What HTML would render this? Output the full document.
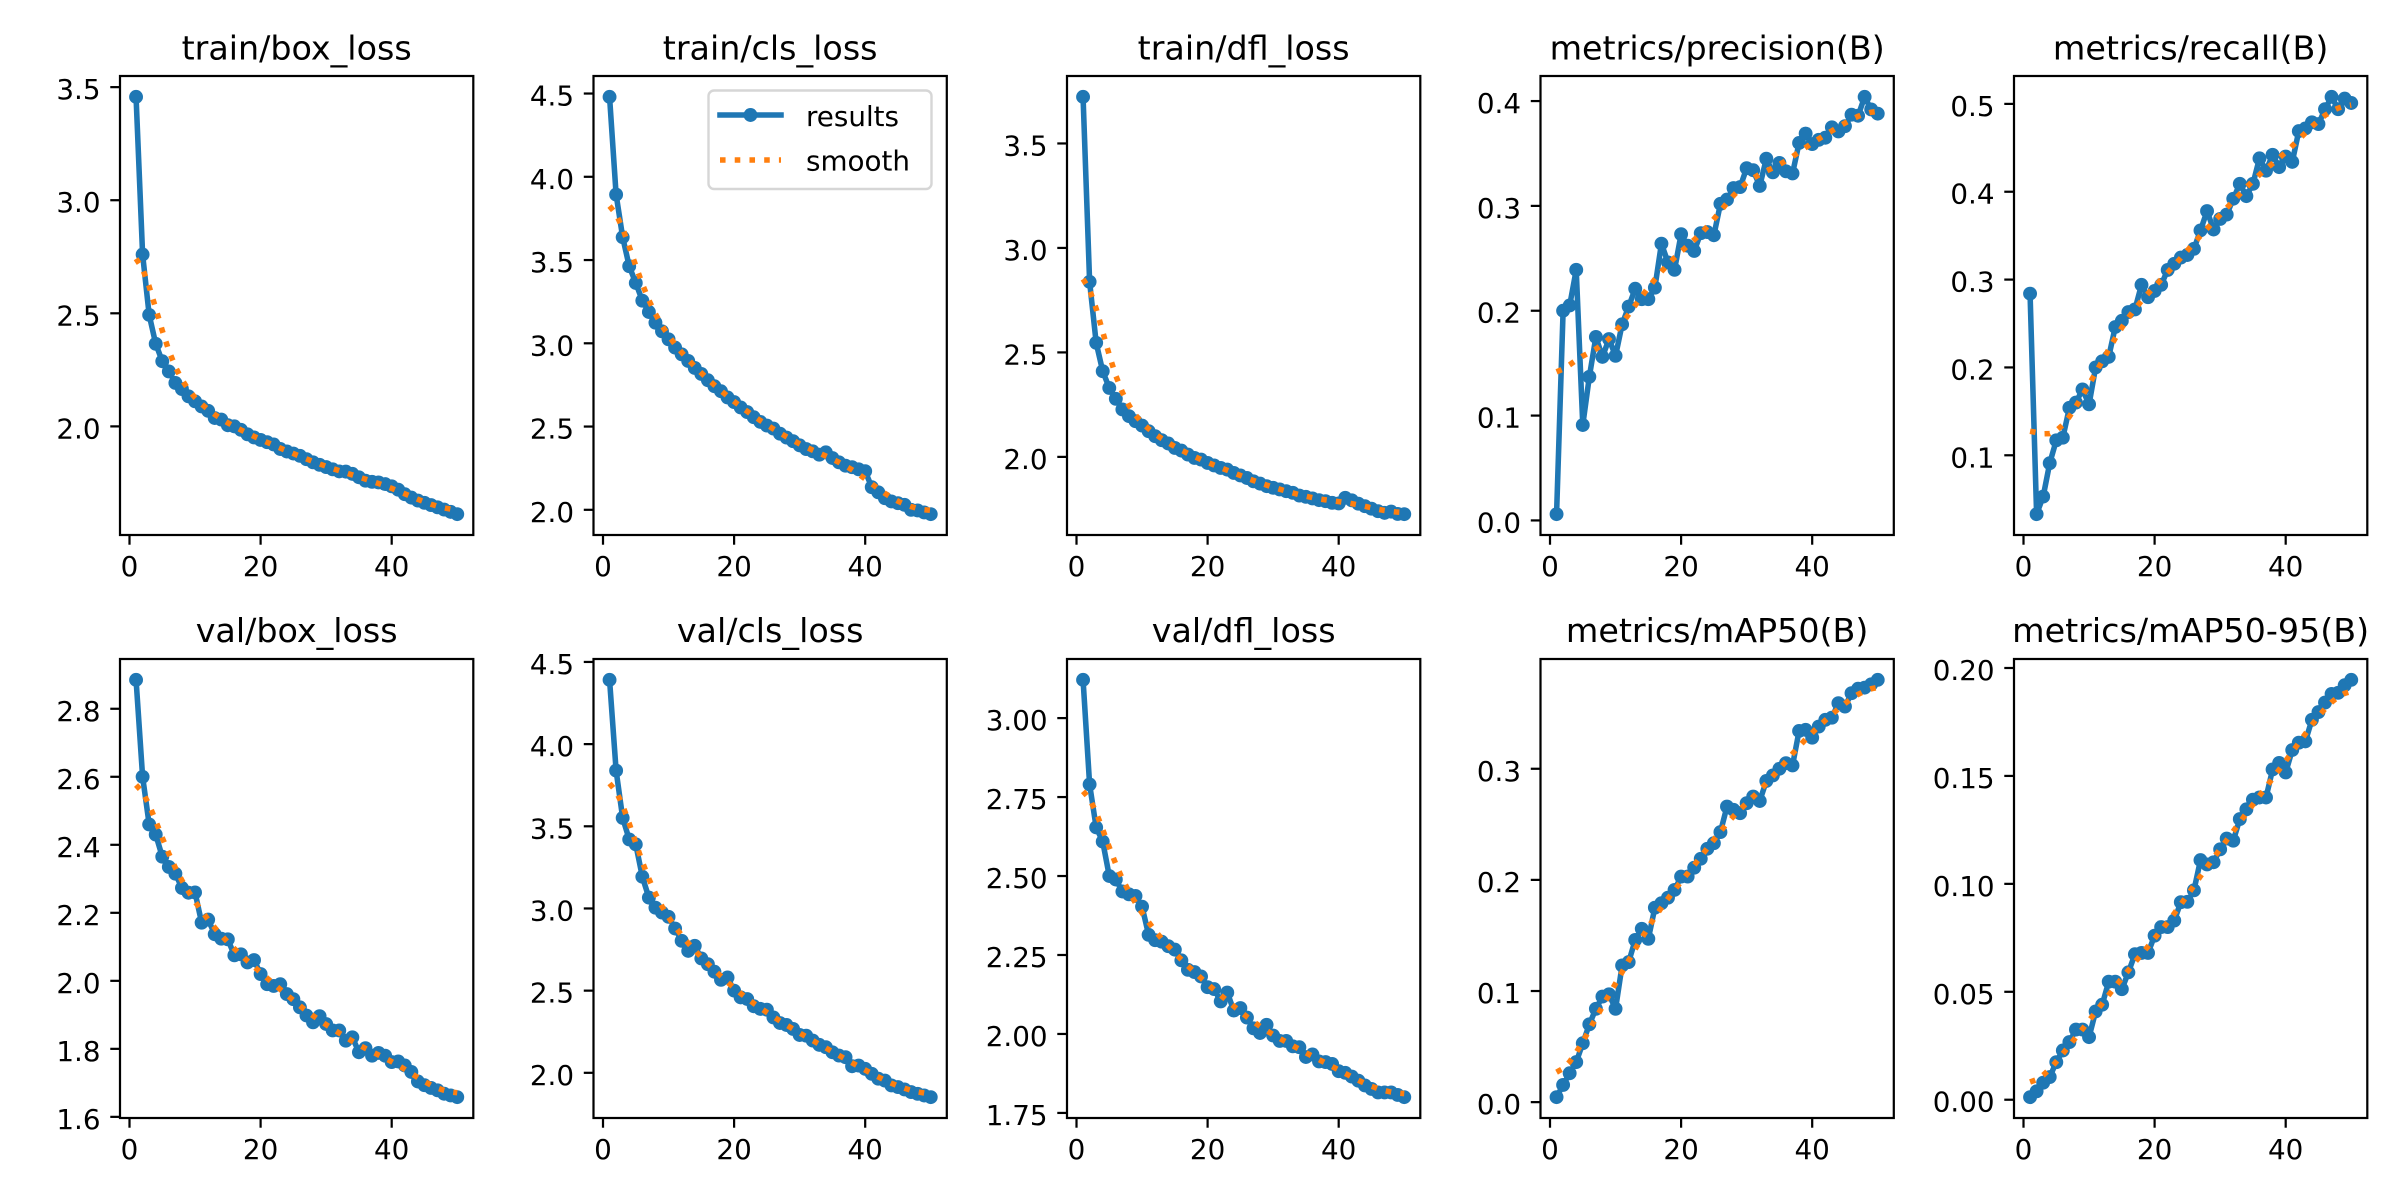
<!DOCTYPE html>
<html><head><meta charset="utf-8">
<style>
html,body{margin:0;padding:0;background:#fff;}
svg{display:block;}
text{font-family:"DejaVu Sans","Liberation Sans",sans-serif;fill:#000;}
.t{font-size:33.33px;text-anchor:middle;}
.x{font-size:27.78px;text-anchor:middle;}
.y{font-size:27.78px;text-anchor:end;}
.l{font-size:27.78px;}
</style></head><body>
<svg id="s" xmlns="http://www.w3.org/2000/svg" width="2400" height="1200" viewBox="0 0 2400 1200">
<rect width="2400" height="1200" fill="#fff"/>
<g id="p0">
<text class="t" x="296.65" y="59.5">train/box_loss</text>
<text class="y">2.0</text><text class="y">2.5</text><text class="y">3.0</text><text class="y">3.5</text>
<text class="x" x="129.5" y="576">0</text><text class="x" x="260.6" y="576">20</text><text class="x" x="391.7" y="576">40</text>
</g>
<g id="p1">
<text class="t" x="770.15" y="59.5">train/cls_loss</text>
<text class="y">2.0</text><text class="y">2.5</text><text class="y">3.0</text><text class="y">3.5</text><text class="y">4.0</text><text class="y">4.5</text>
<text class="x" x="603.0" y="576">0</text><text class="x" x="734.1" y="576">20</text><text class="x" x="865.2" y="576">40</text>
</g>
<g id="p2">
<text class="t" x="1243.65" y="59.5">train/dfl_loss</text>
<text class="y">2.0</text><text class="y">2.5</text><text class="y">3.0</text><text class="y">3.5</text>
<text class="x" x="1076.5" y="576">0</text><text class="x" x="1207.6" y="576">20</text><text class="x" x="1338.7" y="576">40</text>
</g>
<g id="p3">
<text class="t" x="1717.15" y="59.5">metrics/precision(B)</text>
<text class="y">0.0</text><text class="y">0.1</text><text class="y">0.2</text><text class="y">0.3</text><text class="y">0.4</text>
<text class="x" x="1550.0" y="576">0</text><text class="x" x="1681.1" y="576">20</text><text class="x" x="1812.2" y="576">40</text>
</g>
<g id="p4">
<text class="t" x="2190.65" y="59.5">metrics/recall(B)</text>
<text class="y">0.1</text><text class="y">0.2</text><text class="y">0.3</text><text class="y">0.4</text><text class="y">0.5</text>
<text class="x" x="2023.5" y="576">0</text><text class="x" x="2154.6" y="576">20</text><text class="x" x="2285.7" y="576">40</text>
</g>
<g id="p5">
<text class="t" x="296.65" y="642">val/box_loss</text>
<text class="y">1.6</text><text class="y">1.8</text><text class="y">2.0</text><text class="y">2.2</text><text class="y">2.4</text><text class="y">2.6</text><text class="y">2.8</text>
<text class="x" x="129.5" y="1159">0</text><text class="x" x="260.6" y="1159">20</text><text class="x" x="391.7" y="1159">40</text>
</g>
<g id="p6">
<text class="t" x="770.15" y="642">val/cls_loss</text>
<text class="y">2.0</text><text class="y">2.5</text><text class="y">3.0</text><text class="y">3.5</text><text class="y">4.0</text><text class="y">4.5</text>
<text class="x" x="603.0" y="1159">0</text><text class="x" x="734.1" y="1159">20</text><text class="x" x="865.2" y="1159">40</text>
</g>
<g id="p7">
<text class="t" x="1243.65" y="642">val/dfl_loss</text>
<text class="y">1.75</text><text class="y">2.00</text><text class="y">2.25</text><text class="y">2.50</text><text class="y">2.75</text><text class="y">3.00</text>
<text class="x" x="1076.5" y="1159">0</text><text class="x" x="1207.6" y="1159">20</text><text class="x" x="1338.7" y="1159">40</text>
</g>
<g id="p8">
<text class="t" x="1717.15" y="642">metrics/mAP50(B)</text>
<text class="y">0.0</text><text class="y">0.1</text><text class="y">0.2</text><text class="y">0.3</text>
<text class="x" x="1550.0" y="1159">0</text><text class="x" x="1681.1" y="1159">20</text><text class="x" x="1812.2" y="1159">40</text>
</g>
<g id="p9">
<text class="t" x="2190.65" y="642">metrics/mAP50-95(B)</text>
<text class="y">0.00</text><text class="y">0.05</text><text class="y">0.10</text><text class="y">0.15</text><text class="y">0.20</text>
<text class="x" x="2023.5" y="1159">0</text><text class="x" x="2154.6" y="1159">20</text><text class="x" x="2285.7" y="1159">40</text>
</g>
<g id="leg">
<rect x="708.5" y="90.5" width="223" height="98.5" rx="5.56" ry="5.56" fill="#fff" fill-opacity="0.8" stroke="#cccccc" stroke-opacity="0.8" stroke-width="2.4"/>
<line x1="720" y1="115" x2="781" y2="115" stroke="#1f77b4" stroke-width="5.56" stroke-linecap="square"/>
<circle cx="750.5" cy="115" r="6.95" fill="#1f77b4"/>
<line x1="720" y1="160" x2="781" y2="160" stroke="#ff7f0e" stroke-width="5.56" stroke-dasharray="5.56 9.17"/>
<text class="l" x="806" y="126">results</text>
<text class="l" x="806" y="170.5">smooth</text>
</g>
</svg>
<script>
(function(){
var D=[
[3.457,2.76,2.493,2.365,2.288,2.243,2.192,2.165,2.133,2.111,2.088,2.069,2.037,2.03,2.005,2.0,1.985,1.965,1.951,1.94,1.93,1.92,1.90,1.889,1.88,1.87,1.855,1.841,1.83,1.82,1.81,1.801,1.80,1.79,1.775,1.76,1.755,1.752,1.745,1.735,1.72,1.70,1.685,1.672,1.662,1.652,1.642,1.632,1.622,1.612],
[4.48,3.893,3.637,3.463,3.362,3.256,3.188,3.124,3.072,3.024,2.974,2.934,2.894,2.852,2.816,2.778,2.742,2.712,2.675,2.647,2.615,2.587,2.556,2.528,2.506,2.488,2.457,2.434,2.412,2.387,2.365,2.351,2.331,2.345,2.311,2.285,2.265,2.256,2.243,2.232,2.136,2.105,2.070,2.050,2.040,2.030,2.0,1.996,1.984,1.974],
[3.723,2.838,2.546,2.410,2.330,2.278,2.227,2.195,2.171,2.150,2.123,2.099,2.080,2.064,2.043,2.030,2.011,1.995,1.987,1.971,1.959,1.947,1.939,1.923,1.911,1.899,1.883,1.872,1.860,1.852,1.844,1.836,1.828,1.815,1.809,1.801,1.793,1.788,1.780,1.777,1.804,1.792,1.776,1.764,1.752,1.740,1.732,1.738,1.727,1.726],
[0.006,0.200,0.205,0.239,0.091,0.137,0.175,0.156,0.173,0.157,0.187,0.204,0.221,0.211,0.211,0.222,0.264,0.246,0.239,0.273,0.262,0.257,0.274,0.275,0.272,0.302,0.306,0.317,0.318,0.336,0.334,0.319,0.345,0.332,0.341,0.333,0.331,0.360,0.369,0.359,0.363,0.365,0.375,0.371,0.376,0.387,0.386,0.404,0.392,0.388],
[0.284,0.033,0.053,0.091,0.117,0.12,0.154,0.16,0.175,0.158,0.2,0.207,0.212,0.246,0.253,0.263,0.266,0.294,0.28,0.287,0.294,0.311,0.318,0.325,0.328,0.335,0.356,0.378,0.357,0.369,0.374,0.392,0.409,0.395,0.409,0.438,0.424,0.442,0.428,0.44,0.434,0.469,0.472,0.479,0.477,0.494,0.508,0.494,0.506,0.501],
[2.885,2.60,2.46,2.43,2.365,2.335,2.315,2.273,2.259,2.26,2.171,2.18,2.137,2.124,2.122,2.075,2.078,2.054,2.061,2.02,1.99,1.985,1.99,1.961,1.946,1.922,1.898,1.878,1.896,1.873,1.854,1.854,1.824,1.834,1.79,1.802,1.78,1.788,1.78,1.761,1.763,1.751,1.732,1.704,1.693,1.685,1.678,1.668,1.663,1.658],
[4.391,3.839,3.551,3.420,3.39,3.193,3.066,3.005,2.975,2.949,2.878,2.803,2.742,2.773,2.696,2.661,2.615,2.566,2.580,2.50,2.459,2.449,2.405,2.389,2.384,2.337,2.303,2.291,2.267,2.230,2.226,2.196,2.170,2.156,2.125,2.105,2.095,2.040,2.044,2.024,1.994,1.964,1.953,1.923,1.913,1.899,1.883,1.872,1.862,1.852],
[3.121,2.790,2.654,2.609,2.50,2.489,2.451,2.442,2.437,2.403,2.314,2.297,2.292,2.278,2.267,2.233,2.203,2.196,2.182,2.148,2.142,2.103,2.131,2.074,2.082,2.052,2.018,2.003,2.029,1.995,1.978,1.978,1.961,1.958,1.927,1.935,1.913,1.911,1.905,1.882,1.877,1.865,1.852,1.837,1.826,1.815,1.815,1.815,1.807,1.800],
[0.0045,0.0155,0.026,0.036,0.053,0.070,0.084,0.095,0.097,0.084,0.123,0.126,0.146,0.156,0.147,0.175,0.179,0.184,0.191,0.203,0.203,0.211,0.219,0.228,0.233,0.243,0.266,0.263,0.260,0.269,0.275,0.271,0.289,0.294,0.300,0.305,0.303,0.334,0.335,0.328,0.338,0.344,0.346,0.359,0.356,0.368,0.372,0.373,0.376,0.380],
[0.0012,0.0039,0.0079,0.0105,0.0174,0.0228,0.0267,0.0325,0.0325,0.029,0.0409,0.044,0.0547,0.0547,0.0512,0.059,0.0674,0.068,0.068,0.076,0.080,0.080,0.083,0.0915,0.0917,0.097,0.111,0.109,0.110,0.116,0.121,0.120,0.130,0.1345,0.139,0.140,0.140,0.153,0.156,0.1516,0.162,0.1654,0.166,0.176,0.1796,0.184,0.188,0.1885,0.192,0.1945]
];
var L=[120,593.5,1067,1540.5,2014],W=353.3,T=[76,659],H=459;
var NS='http://www.w3.org/2000/svg';
function el(tag,a,p){var e=document.createElementNS(NS,tag);for(var k in a)e.setAttribute(k,a[k]);p.appendChild(e);return e;}
function gauss(y){var s=3,r=12,w=[],sum=0,k;for(k=-r;k<=r;k++){var v=Math.exp(-0.5*k*k/(s*s));w.push(v);sum+=v;}
 var n=y.length,out=[];for(var i=0;i<n;i++){var a=0;for(k=-r;k<=r;k++){var j=i+k;var g=0;while((j<0||j>=n)&&g<10){if(j<0)j=-j-1;if(j>=n)j=2*n-j-1;g++;}a+=w[k+r]*y[j];}out.push(a/sum);}return out;}
for(var i=0;i<10;i++){
 var g=document.getElementById('p'+i);
 var left=L[i%5],top=T[Math.floor(i/5)],bottom=top+H;
 var y=D[i],sm=gauss(y);
 var mn=Math.min.apply(null,y.concat(sm)),mx=Math.max.apply(null,y.concat(sm)),r=mx-mn;
 var y0=mn-0.05*r,y1=mx+0.05*r;
 var X=(function(l){return function(e){return l+(e+1.45)/53.9*W;};})(left);
 var Y=(function(b,a0,a1){return function(v){return b-(v-a0)/(a1-a0)*H;};})(bottom,y0,y1);
 var dg=document.createElementNS(NS,'g');g.insertBefore(dg,g.firstChild);
 var d='',d2='',k;
 for(k=0;k<y.length;k++){d+=(k?'L':'M')+X(k+1).toFixed(2)+' '+Y(y[k]).toFixed(2);d2+=(k?'L':'M')+X(k+1).toFixed(2)+' '+Y(sm[k]).toFixed(2);}
 el('path',{d:d,fill:'none',stroke:'#1f77b4','stroke-width':5.56,'stroke-linejoin':'round','stroke-linecap':'square'},dg);
 for(k=0;k<y.length;k++)el('circle',{cx:X(k+1).toFixed(2),cy:Y(y[k]).toFixed(2),r:6.95,fill:'#1f77b4'},dg);
 el('path',{d:d2,fill:'none',stroke:'#ff7f0e','stroke-width':5.56,'stroke-dasharray':'5.56 9.17'},dg);
 el('rect',{x:left,y:top,width:W,height:H,fill:'none',stroke:'#000','stroke-width':2.22},dg);
 [0,20,40].forEach(function(e){el('line',{x1:X(e),x2:X(e),y1:bottom,y2:bottom+9.72,stroke:'#000','stroke-width':2.22},dg);});
 var ts=g.querySelectorAll('text.y');
 for(k=0;k<ts.length;k++){var t=ts[k];var v=parseFloat(t.textContent);var yy=Y(v);
  t.setAttribute('x',(left-19.44).toFixed(2));t.setAttribute('y',(yy+12).toFixed(2));
  el('line',{x1:left-9.72,x2:left,y1:yy,y2:yy,stroke:'#000','stroke-width':2.22},dg);}
}
})();
</script>
</body></html>
